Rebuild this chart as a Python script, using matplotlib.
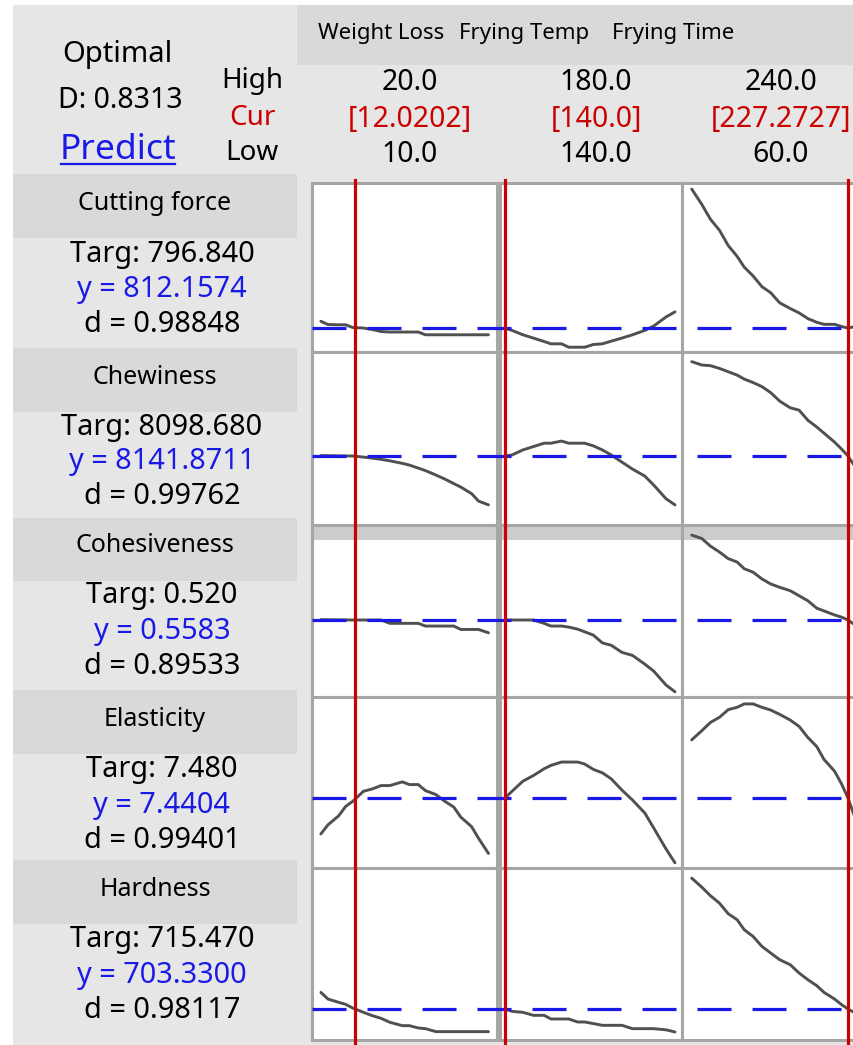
import matplotlib
matplotlib.use('Agg')
import matplotlib.pyplot as plt
from matplotlib.patches import Rectangle
from matplotlib.lines import Line2D
import matplotlib.transforms as mtransforms

plt.rcParams['lines.scale_dashes'] = False

# ---------------- data ----------------
factors = ['Weight Loss', 'Frying Temp', 'Frying Time']
high_labels = ['20.0', '180.0', '240.0']
cur_labels = ['[12.0202]', '[140.0]', '[227.2727]']
low_labels = ['10.0', '140.0', '60.0']
cur_values = [12.0202, 140.0, 227.2727]
optimal_d = 'D: 0.8313'

responses = ['Cutting force', 'Chewiness', 'Cohesiveness', 'Elasticity', 'Hardness']
targets = ['796.840', '8098.680', '0.520', '7.480', '715.470']
predicted = [812.1574, 8141.8711, 0.5583, 7.4404, 703.3300]
pred_labels = ['812.1574', '8141.8711', '0.5583', '7.4404', '703.3300']
desirability = ['0.98848', '0.99762', '0.89533', '0.99401', '0.98117']

# Weight Loss (x in %), Frying Temp (x in C), Frying Time (x in s)
wl_x = [10, 10.42, 11.06, 11.48, 11.9, 12.54, 13.07, 13.59, 14.12, 14.86, 15.28,
        15.81, 16.24, 16.87, 17.4, 17.93, 18.35, 18.99, 19.41, 20]
ft_x = [140, 141.65, 144.2, 146.7, 149.2, 150.8, 153.3, 155.0, 157.1, 158.75, 160.8,
        162.9, 165.0, 167.5, 170.0, 172.9, 175.0, 177.9, 180]
tm_x = [60, 70.7, 80.1, 89.6, 99.1, 108.6, 116.2, 125.6, 135.1, 144.5, 154.1,
        165.4, 174.9, 184.3, 193.8, 201.5, 212.8, 220.4, 227.2, 234.9, 240]

# Cutting force
cut_wl = [839, 826, 825, 825, 814, 812, 806, 798, 796, 796, 796,
          796, 785, 785, 785, 785, 785, 785, 785, 785]
cut_ft = [812, 802.6, 785.1, 771.7, 758.2, 748.8, 748.8, 735.3, 735.3, 735.3, 746.1,
          748.8, 759.6, 771.7, 785.1, 802.6, 820.1, 856.4, 876.6]
cut_tm = [1367.8, 1307.2, 1246.7, 1203.6, 1141.7, 1098.7, 1055.6, 1020.6, 977.6, 953.3, 913.0,
          890.1, 872.6, 849.7, 835.0, 826.8, 826.8, 818.0, 812.2, 818.0, 826.0]

# Chewiness
chew_wl = [8150, 8148, 8145, 8143, 8142, 8120, 8100, 8075, 8045, 7995, 7960,
           7900, 7850, 7760, 7680, 7590, 7520, 7390, 7240, 7165]
chew_ft = [8141.9, 8162.1, 8263.2, 8330.6, 8398.0, 8398.0, 8440.0, 8398.0, 8398.0, 8398.0, 8344.1,
           8263.2, 8162.1, 8020.0, 7880.0, 7740.0, 7560.0, 7285.9, 7164.6]
chew_tm = [10029.1, 9961.7, 9948.2, 9894.3, 9826.9, 9759.5, 9680.0, 9611.2, 9530.3, 9409.0, 9240.5,
           9105.7, 9058.5, 8856.3, 8721.5, 8600.0, 8420.0, 8280.0, 8141.9, 7926.2, 7800.0]

# Cohesiveness
coh_wl = [0.5590, 0.5588, 0.5586, 0.5585, 0.5583, 0.5583, 0.5583, 0.5583, 0.5516, 0.5516, 0.5516,
          0.5516, 0.5462, 0.5462, 0.5462, 0.5462, 0.5394, 0.5394, 0.5394, 0.5327]
coh_ft = [0.5583, 0.5583, 0.5583, 0.5583, 0.5516, 0.5462, 0.5462, 0.5441, 0.5400, 0.5347, 0.5280,
          0.5125, 0.5078, 0.4936, 0.4875, 0.4700, 0.4560, 0.4282, 0.4147]
coh_tm = [0.7281, 0.7214, 0.7059, 0.6944, 0.6810, 0.6742, 0.6608, 0.6540, 0.6405, 0.6304, 0.6237,
          0.6169, 0.6068, 0.5967, 0.5819, 0.5765, 0.5684, 0.5640, 0.5583, 0.5482, 0.5400]

# Elasticity
ela_wl = [7.0809, 7.1716, 7.2623, 7.3564, 7.4068, 7.5076, 7.5311, 7.5647, 7.5647, 7.6017, 7.5748,
          7.5748, 7.5143, 7.4740, 7.4068, 7.3497, 7.2489, 7.1548, 7.0372, 6.8860]
ela_ft = [7.4404, 7.5076, 7.6084, 7.6655, 7.7327, 7.7663, 7.7999, 7.7999, 7.7999, 7.7800, 7.7260,
          7.6924, 7.6319, 7.5200, 7.4200, 7.2900, 7.1400, 6.9300, 6.7919]
ela_tm = [8.0217, 8.1124, 8.1964, 8.2468, 8.3241, 8.3476, 8.3812, 8.3812, 8.3476, 8.3200, 8.2768,
          8.2199, 8.1561, 8.0452, 7.9545, 7.8268, 7.7092, 7.5800, 7.4404, 7.2388, 7.1000]

# Hardness
hard_wl = [769.9, 743.3, 730.0, 722.0, 707.3, 690.0, 676.7, 666.0, 650.1, 636.7, 636.7,
           627.4, 624.7, 612.8, 612.8, 612.8, 612.8, 612.8, 612.8, 612.8]
hard_ft = [703.3, 694.0, 690.0, 678.0, 678.0, 663.4, 663.4, 663.4, 651.4, 651.4, 645.0,
           638.1, 638.1, 638.1, 624.7, 624.7, 624.7, 620.0, 611.4]
hard_tm = [1226.8, 1190.9, 1156.2, 1127.0, 1084.3, 1060.4, 1020.4, 993.8, 953.8, 927.2, 900.6,
           880.5, 847.2, 820.5, 796.6, 769.9, 743.3, 720.6, 703.3, 687.3, 680.0]

curves = [
    [cut_wl, cut_ft, cut_tm],
    [chew_wl, chew_ft, chew_tm],
    [coh_wl, coh_ft, coh_tm],
    [ela_wl, ela_ft, ela_tm],
    [hard_wl, hard_ft, hard_tm],
]
factor_x = [wl_x, ft_x, tm_x]

# ---------------- layout (pixels) ----------------
W, H = 854, 1045
fig = plt.figure(figsize=(W / 100, H / 100), dpi=100)
fig.patch.set_facecolor('white')

def fx(x):
    return x / W

def fy(y):
    return 1 - y / H

FONT = ['Noto Sans', 'DejaVu Sans']
LIGHT = '#e6e6e6'
DARK = '#d9d9d9'
GRID = '#a6a6a6'
RED = '#cc0000'
BLUE = '#1a1ae6'
CURVE = '#505050'

def frect(x0, y0, x1, y1, color):
    r = Rectangle((fx(x0), fy(y1)), (x1 - x0) / W, (y1 - y0) / H,
                  transform=fig.transFigure, facecolor=color, edgecolor='none', zorder=-5)
    fig.add_artist(r)

frect(13, 5, 854, 1045, LIGHT)
frect(297, 5, 854, 65, DARK)
label_boxes = [(174, 238), (348, 412), (518, 581), (690, 754), (860, 924)]
for (a, b) in label_boxes:
    frect(13, a, 297, b, DARK)

col_px = [(312, 497), (500, 682), (682, 869)]
col_xlim = [(9.47, 20.51), (138.82, 181.65), (49.6, 249.7)]
row_px = [(183, 352), (352, 525), (525, 697), (697, 868), (868, 1040)]
row_ylim = [(716.16, 1392.16), (6761.87, 10221.87), (0.4043, 0.7483),
            (6.7404, 8.4504), (579.33, 1267.33)]

axes = []
for i, (t, b) in enumerate(row_px):
    row_axes = []
    for j, (l, r) in enumerate(col_px):
        ax = fig.add_axes([fx(l), fy(b), (r - l) / W, (b - t) / H])
        ax.set_facecolor('white')
        ax.set_xlim(*col_xlim[j])
        ax.set_ylim(*row_ylim[i])
        ax.set_xticks([])
        ax.set_yticks([])
        for s in ax.spines.values():
            s.set_color(GRID)
            s.set_linewidth(2.2)
        if i == 2:
            ax.add_patch(Rectangle((0, 1 - 15 / 172), 1, 15 / 172, transform=ax.transAxes,
                                   facecolor='#cccccc', edgecolor='none', zorder=0.5))
        ax.plot(factor_x[j][:len(curves[i][j])], curves[i][j], color=CURVE, lw=2.1,
                solid_joinstyle='round', solid_capstyle='round', zorder=2)
        row_axes.append(ax)
    axes.append(row_axes)

# blue dashed lines at predicted responses
for i in range(5):
    tr = mtransforms.blended_transform_factory(fig.transFigure, axes[i][0].transData)
    ln = Line2D([fx(312), 1.0], [predicted[i], predicted[i]], transform=tr, color=BLUE,
                lw=2.3, linestyle=(0, (24.5, 15.1)), zorder=4)
    fig.add_artist(ln)

# red current-setting lines
for j in range(3):
    tr = mtransforms.blended_transform_factory(axes[0][j].transData, fig.transFigure)
    ln = Line2D([cur_values[j], cur_values[j]], [fy(180), 0.0], transform=tr, color=RED,
                lw=2.3, zorder=5)
    fig.add_artist(ln)

# ---------------- texts ----------------
def ftext(x, y, s, size, color='black', ha='center', **kw):
    return fig.text(fx(x), fy(y), s, ha=ha, va='center', fontsize=size, color=color,
                    family=FONT, **kw)

ftext(117, 55, 'Optimal', 21)
ftext(120, 100, optimal_d, 20.5)
pt = ftext(118, 150, 'Predict', 25.5, color=BLUE)
ftext(252, 81, 'High', 20)
ftext(252, 118, 'Cur', 20, color=RED)
ftext(252, 153, 'Low', 20)

factor_left = [318, 459, 612]
for j in range(3):
    ftext(factor_left[j], 33, factors[j], 16, ha='left')

col_centers = [410, 596, 781]
for j in range(3):
    ftext(col_centers[j], 83, high_labels[j], 20.5)
    ftext(col_centers[j], 119, cur_labels[j], 20.5, color=RED)
    ftext(col_centers[j], 155, low_labels[j], 20.5)

name_y = [204, 377, 546, 720, 890]
for i in range(5):
    y0 = name_y[i]
    ftext(155, y0, responses[i], 18)
    ftext(162, y0 + 50, 'Targ: ' + targets[i], 20.8)
    ftext(162, y0 + 85, 'y = ' + pred_labels[i], 20.8, color=BLUE)
    ftext(162, y0 + 120, 'd = ' + desirability[i], 20.8)

fig.canvas.draw()
bb = pt.get_window_extent(fig.canvas.get_renderer())
inv = fig.transFigure.inverted()
(x0, y0), (x1, y1) = inv.transform([[bb.x0, bb.y0], [bb.x1, bb.y1]])
fig.add_artist(Line2D([x0 + 0.002, x1 - 0.002], [y0 + 0.003, y0 + 0.003],
                      transform=fig.transFigure, color=BLUE, lw=1.6))

fig.savefig('out.png', dpi=100)
